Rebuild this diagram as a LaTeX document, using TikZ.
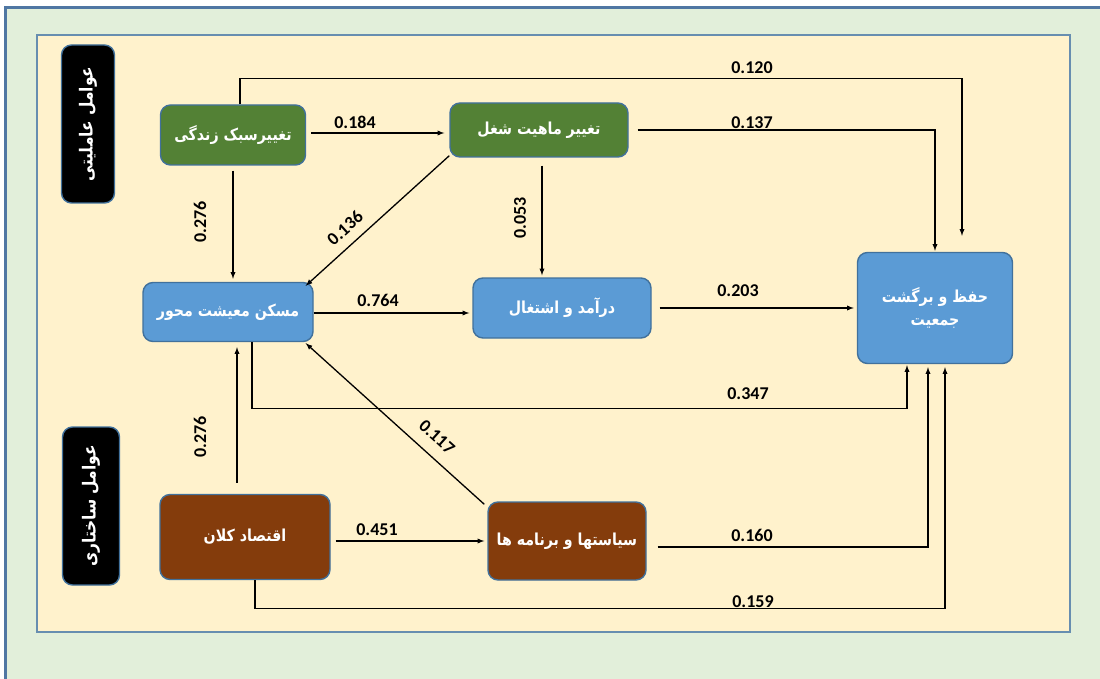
\documentclass[tikz,border=0pt]{standalone}
\usepackage{fontspec}
\setmainfont{Carlito}
\newfontfamily\arabicfont[Script=Arabic, FakeStretch=0.86]{DejaVu Sans}
\TeXXeTstate=1
\usetikzlibrary{arrows,shapes}

\definecolor{outerbg}{HTML}{E2EFDA}
\definecolor{outerline}{HTML}{4F77A3}
\definecolor{innerbg}{HTML}{FFF2CC}
\definecolor{frameblue}{HTML}{41719C}
\definecolor{agentgreen}{HTML}{538135}
\definecolor{skyblue}{HTML}{5B9BD5}
\definecolor{rustbrown}{HTML}{843C0C}

\begin{document}
\begin{tikzpicture}[x=1pt, y=-1pt, >=latex,
box/.style={draw=frameblue, line width=1.4pt, rounded corners=10pt, text=white,
    font=\arabicfont\bfseries\fontsize{16.5}{23}\selectfont, align=center, inner sep=0pt},
greenbox/.style={box, fill=agentgreen},
bluebox/.style={box, fill=skyblue},
brownbox/.style={box, fill=rustbrown},
sidebox/.style={box, draw=frameblue, fill=black, rotate=90, rounded corners=10pt,
    font=\arabicfont\bfseries\fontsize{18}{23}\selectfont},
link/.style={->, line width=1.3pt},
weight/.style={font=\bfseries\fontsize{18}{18}\selectfont, inner sep=1pt},
]

\useasboundingbox (0,0) rectangle (1100,679);
\fill[white] (0,0) rectangle (1100,679);
\fill[outerbg] (5,8) rectangle (1100,679);
\draw[outerline, line width=3pt] (5,679) -- (5,8) -- (1100,8);
\draw[frameblue!80, fill=innerbg, line width=1.2pt] (37,35) rectangle (1070,632);

% factor groups
\node[sidebox, minimum width=158, minimum height=53] (agency) at (88,124) {\beginR عوامل عاملیتی\endR};
\node[sidebox, minimum width=158, minimum height=57] (structure) at (91,506) {\beginR عوامل ساختاری\endR};

% variables
\node[greenbox, minimum width=145, minimum height=60] (life) at (233,135) {\beginR تغییرسبک زندگی\endR};
\node[greenbox, minimum width=178, minimum height=54] (job) at (539,130) {\beginR تغییر ماهیت شغل\endR};
\node[bluebox, minimum width=170, minimum height=59] (housing) at (228,312) {\beginR مسکن معیشت محور\endR};
\node[bluebox, minimum width=178, minimum height=60] (income) at (562,308) {\beginR درآمد و اشتغال\endR};
\node[bluebox, minimum width=155, minimum height=111] (keep) at (935,308) {\beginR حفظ و برگشت\endR\\\beginR جمعیت\endR};
\node[brownbox, minimum width=170, minimum height=85] (macro) at (245,537) {\beginR اقتصاد کلان\endR};
\node[brownbox, minimum width=158, minimum height=78] (policy) at (567,541) {\beginR سیاستها و برنامه ها\endR};

% paths
\draw[link] ([xshift=7]life.north) -- ++(0,-26) -| ([xshift=27,yshift=16]keep.north);
\draw[link] ([xshift=9]job.east) -| ([yshift=1]keep.north);
\draw[link, shorten <=5pt, shorten >=5pt] ([yshift=2]life.east) -- ([yshift=2]life.east -| job.west);
\draw[link, shorten <=5pt, shorten >=3pt] (life.south) -- (life.south |- housing.north);
\draw[link] ([yshift=2]job.south west) -- ([xshift=-8,yshift=-4]housing.north east);
\draw[link, shorten <=8pt, shorten >=2pt] ([xshift=3]job.south) -- ([xshift=3]job.south |- income.north);
\draw[link, shorten >=3pt] ([yshift=-1]housing.east) -- ([yshift=-1]housing.east -| income.west);
\draw[link, shorten <=8pt, shorten >=3pt] (income.east) -- (income.east -| keep.west);
\draw[link] ([xshift=24]housing.south) -- ++(0,66) -| ([xshift=-28,yshift=-1]keep.south);
\draw[link] ([xshift=-3,yshift=-3]policy.north west) -- ([xshift=-8,yshift=-1]housing.south east);
\draw[link] ([xshift=-8,yshift=11]macro.north) -- ([xshift=9,yshift=-5]housing.south);
\draw[link, shorten <=5pt, shorten >=3pt] (macro.east |- policy.west) -- (policy.west);
\draw[link] ([xshift=11,yshift=-6]policy.east) -| ([xshift=-7,yshift=-3]keep.south);
\draw[link] ([xshift=10]macro.south) -- ++(0,28) -| ([xshift=10,yshift=-3]keep.south);

% weights
\node[weight] (w120) at (752,68) {0.120};
\node[weight] (w184) at (355,122) {0.184};
\node[weight] (w137) at (752,123) {0.137};
\node[weight, rotate=90] (w276a) at (200,222) {0.276};
\node[weight, rotate=42] (w136) at (345,228) {0.136};
\node[weight, rotate=90] (w053) at (520,218) {0.053};
\node[weight] (w764) at (378,300) {0.764};
\node[weight] (w203) at (738,291) {0.203};
\node[weight] (w347) at (748,394) {0.347};
\node[weight, rotate=-42] (w117) at (437,437) {0.117};
\node[weight, rotate=90] (w276b) at (200,437) {0.276};
\node[weight] (w451) at (377,530) {0.451};
\node[weight] (w160) at (752,535) {0.160};
\node[weight] (w159) at (753,602) {0.159};

\end{tikzpicture}
\end{document}
